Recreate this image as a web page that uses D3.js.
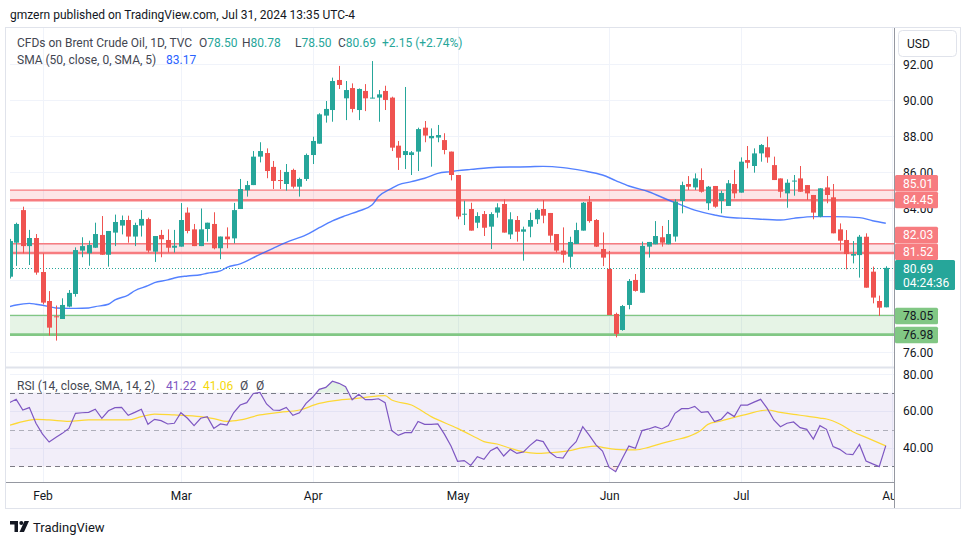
<!DOCTYPE html>
<html><head><meta charset="utf-8">
<script src="https://cdn.jsdelivr.net/npm/d3@7"></script>
<style>
html,body{margin:0;padding:0;background:#fff;}
svg{display:block;font-family:Roboto,"Noto Sans",sans-serif;}
</style></head><body>
<svg id="c" width="970" height="545"></svg>
<script>
// ---------- DATA ----------
const dates = ["Jan 25","Jan 26","Jan 29","Jan 30","Jan 31",
"Feb 1","Feb 2","Feb 5","Feb 6","Feb 7","Feb 8","Feb 9","Feb 12","Feb 13","Feb 14","Feb 15","Feb 16","Feb 19","Feb 20","Feb 21","Feb 22","Feb 23","Feb 26","Feb 27","Feb 28","Feb 29",
"Mar 1","Mar 4","Mar 5","Mar 6","Mar 7","Mar 8","Mar 11","Mar 12","Mar 13","Mar 14","Mar 15","Mar 18","Mar 19","Mar 20","Mar 21","Mar 22","Mar 25","Mar 26","Mar 27","Mar 28",
"Apr 1","Apr 2","Apr 3","Apr 4","Apr 5","Apr 8","Apr 9","Apr 10","Apr 11","Apr 12","Apr 15","Apr 16","Apr 17","Apr 18","Apr 19","Apr 22","Apr 23","Apr 24","Apr 25","Apr 26","Apr 29","Apr 30",
"May 1","May 2","May 3","May 6","May 7","May 8","May 9","May 10","May 13","May 14","May 15","May 16","May 17","May 20","May 21","May 22","May 23","May 24","May 27","May 28","May 29","May 30","May 31",
"Jun 3","Jun 4","Jun 5","Jun 6","Jun 7","Jun 10","Jun 11","Jun 12","Jun 13","Jun 14","Jun 17","Jun 18","Jun 19","Jun 20","Jun 21","Jun 24","Jun 25","Jun 26","Jun 27","Jun 28",
"Jul 1","Jul 2","Jul 3","Jul 4","Jul 5","Jul 8","Jul 9","Jul 10","Jul 11","Jul 12","Jul 15","Jul 16","Jul 17","Jul 18","Jul 19","Jul 22","Jul 23","Jul 24","Jul 25","Jul 26","Jul 29","Jul 30","Jul 31"];

const open = [80.2,82.09,83.9,81.9,82.35,80.46,78.85,78.0,77.85,78.54,79.24,81.65,81.5,81.81,82.52,81.42,82.65,83.04,83.35,82.43,83.04,83.4,81.59,82.52,82.24,81.81,
81.87,83.76,82.83,81.9,82.85,83.13,81.78,82.43,82.33,83.96,85.0,85.29,86.87,87.07,86.3,85.57,85.35,86.13,85.2,85.63,
86.96,87.59,89.15,89.46,91.13,90.11,90.68,89.46,90.52,90.13,90.15,90.52,90.15,87.48,86.96,86.96,87.15,88.48,87.89,87.93,87.79,87.15,
85.85,83.66,83.96,83.2,83.68,82.98,83.76,84.24,82.55,83.35,82.7,82.98,83.39,83.96,83.74,82.57,81.65,81.31,82.02,82.76,84.37,83.35,81.74,
80.63,78.13,77.24,78.63,80.02,79.31,81.87,82.0,82.39,82.0,82.43,84.41,85.35,85.16,85.57,84.28,85.24,84.41,84.13,85.35,
84.87,86.68,86.35,87.05,87.39,86.4,85.66,84.83,85.5,85.66,85.29,84.74,83.54,85.16,84.61,82.83,82.24,81.37,81.4,82.42,80.48,78.85,78.50];
const high = [82.3,83.2,84.09,82.8,82.57,81.5,79.4,78.6,79.0,79.46,81.83,82.39,82.2,83.2,83.57,82.74,83.65,83.6,83.59,83.2,83.9,83.48,82.46,82.8,82.83,82.8,
84.29,84.05,83.13,83.99,83.2,83.78,82.43,82.94,84.3,85.63,85.52,87.18,87.67,87.33,86.63,86.13,86.46,86.2,85.7,87.04,
87.98,89.28,89.96,91.26,91.91,91.07,90.94,90.66,90.9,92.18,90.57,90.81,90.2,87.74,90.74,87.18,88.48,88.85,88.44,88.63,88.17,87.15,
85.85,84.42,84.31,83.78,83.85,83.78,84.28,84.5,83.78,83.57,82.98,83.76,84.0,84.46,83.74,82.57,82.94,82.42,83.2,84.35,84.68,83.4,82.66,
81.63,78.2,78.63,80.07,80.35,82.15,82.13,83.29,83.02,83.35,84.5,85.48,85.79,85.94,86.22,85.24,85.24,84.98,85.57,86.13,
86.83,87.46,87.33,87.57,87.98,86.87,85.66,85.61,85.85,86.35,85.29,84.74,85.11,85.79,85.35,83.16,82.79,82.18,82.52,82.61,80.76,79.15,80.78];
const low = [80.1,80.8,81.5,80.85,80.31,78.66,76.93,76.65,77.85,78.5,79.09,81.28,80.81,81.8,81.42,80.76,81.9,82.55,82.09,81.9,82.43,81.54,81.02,81.28,81.54,81.54,
81.87,82.61,81.9,81.9,82.15,81.72,81.17,81.78,82.05,83.96,84.65,85.29,86.55,85.67,85.07,85.07,84.98,85.1,84.65,85.52,
86.46,87.59,88.76,88.81,90.63,88.9,89.33,88.9,89.4,90.11,88.81,89.46,87.18,86.13,86.18,85.85,86.07,87.67,86.31,87.67,87.0,85.55,
83.39,83.07,82.76,82.9,82.46,81.74,83.48,82.65,82.29,82.15,81.09,82.39,83.13,83.17,82.09,81.54,80.98,80.7,82.02,82.76,83.2,81.85,80.79,
78.07,76.83,77.2,78.39,79.37,79.31,81.26,82.0,81.87,82.0,82.15,83.72,85.02,85.02,84.87,83.9,84.03,83.72,84.13,84.55,
84.87,86.22,85.98,86.59,86.53,85.57,84.59,84.03,84.7,84.92,84.46,83.39,83.5,84.28,82.61,81.65,80.61,80.94,80.15,79.59,78.72,78.02,78.50];
const close = [82.18,83.13,81.9,82.35,80.43,78.76,77.37,77.95,78.63,79.3,81.68,81.9,81.96,82.57,81.42,82.74,83.24,83.35,82.43,83.07,83.41,81.65,82.46,82.28,81.81,81.92,
83.35,82.74,81.9,82.83,83.2,81.78,82.43,82.28,83.9,85.07,85.29,86.87,87.18,86.07,85.52,85.55,86.02,85.2,85.63,86.96,
87.74,89.22,89.52,91.07,90.85,90.57,89.52,90.63,90.11,90.15,90.33,90.02,87.37,86.81,87.18,87.11,88.4,88.04,88.02,88.07,87.24,85.85,
83.54,83.7,82.76,83.57,82.92,83.68,84.05,82.65,83.39,82.7,82.83,83.35,83.91,83.59,82.48,81.65,81.42,82.13,82.79,84.31,83.29,81.87,81.26,
78.07,77.02,78.57,79.96,79.41,81.91,82.13,82.46,82.09,82.57,84.37,85.29,85.2,85.66,84.92,85.2,84.09,84.85,85.39,84.83,
86.59,86.53,87.05,87.52,86.83,85.57,84.92,85.42,85.54,84.92,84.83,83.76,85.11,84.74,82.61,82.2,81.46,81.46,82.42,79.59,79.04,78.48,80.69];

// SMA(50) at these bars
const smaBars = [0,1,3,4,6,7,9,10,12,13,15,16,18,19,21,22,24,25,27,29,30,32,33,35,38,40,42,45,47,49,51,53,55,56,58,59,61,63,65,67,68,70,74,79,81,84,87,90,92,94,97,100,102,104,107,109,112,117,119,122,125,129,131,133];
const smaVals = [78.54,78.63,78.72,78.67,78.54,78.46,78.44,78.44,78.46,78.54,78.67,78.91,79.18,79.42,79.7,79.87,80.02,80.13,80.24,80.31,80.39,80.52,80.72,80.91,81.44,81.78,82.11,82.52,82.92,83.3,83.59,83.85,84.18,84.65,85.11,85.3,85.48,85.67,85.94,86.04,86.09,86.16,86.28,86.31,86.33,86.26,86.09,85.85,85.54,85.24,84.92,84.46,84.18,83.9,83.63,83.5,83.44,83.35,83.44,83.54,83.54,83.48,83.31,83.17];

// RSI(14), one value per bar
const rsi = [64.6,66.4,60.6,61.9,53.4,47.5,43.2,45.7,47.9,50.6,
58.8,59.1,59.3,61.0,56.1,60.2,61.9,62.0,57.7,59.3,
61.0,52.8,55.5,54.8,53.0,53.4,59.1,56.1,52.1,56.1,
57.0,50.6,53.0,52.4,59.1,63.3,64.6,69.6,70.2,63.9,
60.6,60.4,62.0,57.7,59.1,64.2,67.5,71.8,72.9,76.2,
75.1,73.3,66.2,69.1,66.2,66.2,66.7,64.6,49.4,46.8,
48.3,48.3,54.4,52.8,52.8,53.0,47.5,41.0,32.7,33.1,
30.5,35.2,33.8,38.5,40.3,35.6,39.2,37.0,37.8,41.4,
44.3,43.4,37.6,34.9,34.5,39.8,43.4,51.5,46.8,41.6,
38.3,29.4,27.1,34.2,41.0,39.8,49.4,50.3,51.5,50.3,
52.1,58.8,61.3,61.3,62.6,59.3,59.7,54.3,55.5,59.3,
57.0,63.3,63.3,64.9,66.4,61.5,55.2,51.5,53.4,54.1,
51.0,50.1,44.8,52.1,50.1,40.7,39.2,36.7,36.3,41.9,
32.9,31.3,29.8,41.2];

// RSI-based SMA(14) read at these bars
const rsiSmaBars = [0,2,4,6,9,12,14,18,20,22,25,29,31,33,35,38,41,44,47,50,52,54,57,58,61,64,68,71,72,74,76,78,80,82,85,87,89,90,92,95,97,99,101,103,105,106,108,110,112,114,115,117,119,121,123,124,126,128,130,133];
const rsiSmaVals = [52.3,54.3,55.5,55.2,54.4,55.2,55.2,55.2,57.0,58.4,57.9,57.0,55.9,54.4,55.2,57.9,59.3,60.6,64.2,66.0,66.6,67.5,68.4,66.0,63.3,57.0,50.6,45.2,43.4,42.1,39.8,37.8,37.0,37.4,38.5,40.1,41.0,40.3,39.2,38.9,40.3,42.5,44.3,46.1,49.7,52.8,54.6,56.6,58.4,60.2,60.6,59.3,58.2,57.3,56.2,55.7,53.0,48.8,45.7,41.1];

const priceTicks = [76,78,80,82,84,86,88,90,92];
const priceTickLabels = [76,84,86,88,90,92];   // the others sit under the price boxes
const rsiTicks = [40,60,80];
const rsiLevels = [70,50,30];
const monthLabels = ["Feb","Mar","Apr","May","Jun","Jul","Aug"];
const monthTickBars = [5,26,46,68,91,111,134];

const zoneTop = [85.01,82.03,78.05];
const zoneBottom = [84.45,81.52,76.98];
const zoneKind = ["res","res","sup"];
const lastPrice = 80.69;
const countdown = "04:24:36";

// ---------- LAYOUT ----------
const svg = d3.select("#c");
const W = 970, H = 545;
const L = 10, R = 894;
const mainTop = 28, mainBot = 367, rsiTop = 368, rsiBot = 482;
const UP = "#26a69a", DOWN = "#ef5350";
const GRID = "#f0f3fa";
const TXT = "#131722";
const FS = 12;

const x = d3.scaleLinear().domain([0,133]).range([9.6,885.8]);
const y = d3.scaleLinear().domain([76,92]).range([352.3,64.3]);
const yr = d3.scaleLinear().domain([30,70]).range([466.3,392.7]);

const defs = svg.append("defs");
defs.append("clipPath").attr("id","mainClip").append("rect").attr("x",L).attr("y",mainTop).attr("width",R-L).attr("height",mainBot-mainTop);
defs.append("clipPath").attr("id","rsiClip").append("rect").attr("x",L).attr("y",rsiTop).attr("width",R-L).attr("height",rsiBot-rsiTop);
defs.append("clipPath").attr("id","obClip").append("rect").attr("x",L).attr("y",rsiTop).attr("width",R-L).attr("height",yr(70)-rsiTop);
defs.append("clipPath").attr("id","osClip").append("rect").attr("x",L).attr("y",yr(30)).attr("width",R-L).attr("height",rsiBot-yr(30));
defs.append("clipPath").attr("id","rsiAxisClip").append("rect").attr("x",R).attr("y",370).attr("width",W-R).attr("height",rsiBot-370);
defs.append("clipPath").attr("id","timeClip").append("rect").attr("x",L).attr("y",rsiBot).attr("width",R-L).attr("height",30);
const obGrad = defs.append("linearGradient").attr("id","obGrad").attr("x1",0).attr("x2",0).attr("y1",0).attr("y2",1);
obGrad.append("stop").attr("offset","0%").attr("stop-color","rgba(76,175,80,0.16)");
obGrad.append("stop").attr("offset","100%").attr("stop-color","rgba(76,175,80,0.02)");
const osGrad = defs.append("linearGradient").attr("id","osGrad").attr("x1",0).attr("x2",0).attr("y1",0).attr("y2",1);
osGrad.append("stop").attr("offset","0%").attr("stop-color","rgba(255,82,82,0.02)");
osGrad.append("stop").attr("offset","100%").attr("stop-color","rgba(255,82,82,0.16)");

svg.append("rect").attr("width",W).attr("height",H).attr("fill","#fff");

// header
svg.append("text").attr("x",10).attr("y",19).attr("font-size",FS).attr("fill",TXT)
  .text("gmzern published on TradingView.com, Jul 31, 2024 13:35 UTC-4");

// frame
svg.append("rect").attr("x",5.5).attr("y",27.5).attr("width",955).attr("height",481)
  .attr("fill","none").attr("stroke","#e0e3eb");

// ---------- GRID ----------
const grid = svg.append("g");
grid.selectAll("line.hg").data(priceTicks).join("line")
  .attr("x1",L).attr("x2",R).attr("y1",d=>Math.round(y(d))+0.5).attr("y2",d=>Math.round(y(d))+0.5)
  .attr("stroke",GRID);
grid.selectAll("line.rg").data(rsiTicks).join("line")
  .attr("x1",L).attr("x2",R).attr("y1",d=>Math.round(yr(d))+0.5).attr("y2",d=>Math.round(yr(d))+0.5)
  .attr("stroke",GRID);
grid.selectAll("line.vg").data(monthTickBars).join("line")
  .attr("x1",d=>Math.round(x(d))+0.5).attr("x2",d=>Math.round(x(d))+0.5)
  .attr("y1",mainTop).attr("y2",rsiBot).attr("stroke",GRID);

// ---------- ZONES ----------
const zg = svg.append("g").attr("clip-path","url(#mainClip)");
zoneTop.forEach((t,k)=>{
  const b = zoneBottom[k];
  const res = zoneKind[k]==="res";
  const fill = res ? "rgba(242,54,69,0.13)" : "rgba(76,175,80,0.14)";
  const line = res ? "#f77c80" : "#81c784";
  zg.append("rect").attr("x",L).attr("width",R-L).attr("y",y(t)).attr("height",y(b)-y(t)).attr("fill",fill);
  zg.append("line").attr("x1",L).attr("x2",R).attr("y1",y(t)).attr("y2",y(t)).attr("stroke",line).attr("stroke-width",1.3);
  zg.append("line").attr("x1",L).attr("x2",R).attr("y1",y(b)).attr("y2",y(b)).attr("stroke",line).attr("stroke-width",2.6);
});

// last price dotted line
zg.append("line").attr("x1",L).attr("x2",R).attr("y1",Math.round(y(lastPrice))+0.5).attr("y2",Math.round(y(lastPrice))+0.5)
  .attr("stroke",UP).attr("stroke-dasharray","1,2");

// SMA line
const smaLine = d3.line().x((d,k)=>x(smaBars[k])).y(d=>y(d)).curve(d3.curveMonotoneX);
zg.append("path").attr("d",smaLine(smaVals)).attr("fill","none").attr("stroke","#2962ff")
  .attr("stroke-width",1.4).attr("stroke-opacity",0.8);

// ---------- CANDLES ----------
const idx = d3.range(dates.length);
const cg = svg.append("g").attr("clip-path","url(#mainClip)");
const col = i => close[i] >= open[i] ? UP : DOWN;
cg.selectAll("line.wick").data(idx).join("line")
  .attr("x1",i=>Math.round(x(i))+0.5).attr("x2",i=>Math.round(x(i))+0.5)
  .attr("y1",i=>y(high[i])).attr("y2",i=>y(low[i])).attr("stroke",col).attr("stroke-width",1);
cg.selectAll("rect.body").data(idx).join("rect")
  .attr("x",i=>Math.round(x(i))-2).attr("width",5)
  .attr("y",i=>y(Math.max(open[i],close[i])))
  .attr("height",i=>Math.max(1,Math.abs(y(open[i])-y(close[i]))))
  .attr("fill",col);

// ---------- PANE SEPARATOR ----------
svg.append("line").attr("x1",6).attr("x2",R).attr("y1",mainBot+0.5).attr("y2",mainBot+0.5).attr("stroke","#e0e3eb").attr("stroke-width",2);

// ---------- RSI ----------
const rg = svg.append("g").attr("clip-path","url(#rsiClip)");
rg.append("rect").attr("x",L).attr("width",R-L).attr("y",yr(70)).attr("height",yr(30)-yr(70)).attr("fill","rgba(126,87,194,0.1)");
rsiLevels.forEach(v=>{
  rg.append("line").attr("x1",L).attr("x2",R).attr("y1",Math.round(yr(v))+0.5).attr("y2",Math.round(yr(v))+0.5)
    .attr("stroke", v===50 ? "rgba(120,123,134,0.55)" : "#787b86").attr("stroke-dasharray","5,4");
});
const rsiArea = (base)=>d3.area().x((d,i)=>x(i)).y0(yr(base)).y1(d=>yr(d));
rg.append("path").attr("d",rsiArea(70)(rsi)).attr("fill","url(#obGrad)").attr("clip-path","url(#obClip)");
rg.append("path").attr("d",rsiArea(30)(rsi)).attr("fill","url(#osGrad)").attr("clip-path","url(#osClip)");
rg.append("path").attr("d",d3.line().x((d,k)=>x(rsiSmaBars[k])).y(d=>yr(d)).curve(d3.curveMonotoneX)(rsiSmaVals))
  .attr("fill","none").attr("stroke","#fdd835").attr("stroke-width",1.2);
rg.append("path").attr("d",d3.line().x((d,i)=>x(i)).y(d=>yr(d))(rsi))
  .attr("fill","none").attr("stroke","#7e57c2").attr("stroke-width",1.2);

// ---------- LEGENDS ----------
const lg = svg.append("g").attr("font-size",FS);
const GRAY = "#434651";
lg.append("text").attr("x",17).attr("y",46.5).attr("fill",GRAY).text("CFDs on Brent Crude Oil, 1D, TVC");
const ohlcLab = ["O","H","L","C"];
const ohlcVal = ["78.50","80.78","78.50","80.69"];
const ohlcX = [199,242,295,338];
ohlcLab.forEach((t,k)=>{
  const tx = lg.append("text").attr("x",ohlcX[k]).attr("y",46.5);
  tx.append("tspan").attr("fill",GRAY).text(t);
  tx.append("tspan").attr("fill",UP).text(ohlcVal[k]);
});
lg.append("text").attr("x",382).attr("y",46.5).attr("fill",UP).text("+2.15 (+2.74%)");
lg.append("text").attr("x",17).attr("y",63.5).attr("fill",GRAY).text("SMA (50, close, 0, SMA, 5)");
lg.append("text").attr("x",166).attr("y",63.5).attr("fill","#2962ff").text("83.17");
lg.append("text").attr("x",17).attr("y",389.5).attr("fill",GRAY).text("RSI (14, close, SMA, 14, 2)");
lg.append("text").attr("x",166).attr("y",389.5).attr("fill","#7e57c2").text("41.22");
lg.append("text").attr("x",203).attr("y",389.5).attr("fill","#f5d90a").text("41.06");
lg.append("text").attr("x",240).attr("y",389.5).attr("fill",GRAY).text("\u00D8");
lg.append("text").attr("x",256).attr("y",389.5).attr("fill",GRAY).text("\u00D8");

// ---------- PRICE AXIS ----------
const pa = svg.append("g").attr("transform",`translate(${R},0)`)
  .call(d3.axisRight(y).tickValues(priceTickLabels).tickFormat(d3.format(".2f")).tickSize(0).tickPadding(9));
pa.select(".domain").remove();
pa.selectAll("text").attr("font-size",FS).attr("fill",TXT).attr("font-family","Roboto,'Noto Sans',sans-serif");

const ra = svg.append("g").attr("clip-path","url(#rsiAxisClip)").append("g").attr("transform",`translate(${R},0)`)
  .call(d3.axisRight(yr).tickValues(rsiTicks).tickFormat(d3.format(".2f")).tickSize(0).tickPadding(9));
ra.select(".domain").remove();
ra.selectAll("text").attr("font-size",FS).attr("fill",TXT).attr("font-family","Roboto,'Noto Sans',sans-serif");

// price labels (boxes)
const boxVals = [85.01,84.45,82.03,81.52,78.05,76.98];
const boxCenters = [183.3,200,235,251.7,316,335];
const boxFill = ["#f77c80","#f77c80","#f77c80","#f77c80","#81c784","#81c784"];
const boxText = ["#fff","#fff","#fff","#fff",TXT,TXT];
boxVals.forEach((v,k)=>{
  svg.append("rect").attr("x",R+1).attr("y",boxCenters[k]-8.3).attr("width",43).attr("height",16.6).attr("fill",boxFill[k]).attr("rx",1.5);
  svg.append("text").attr("x",903).attr("y",boxCenters[k]+4.3).attr("font-size",FS).attr("fill",boxText[k]).text(v.toFixed(2));
});
svg.append("rect").attr("x",R+1).attr("y",260).attr("width",60).attr("height",30).attr("fill",UP).attr("rx",1.5);
svg.append("text").attr("x",903).attr("y",272.8).attr("font-size",FS).attr("fill","#fff").text(lastPrice.toFixed(2));
svg.append("text").attr("x",903).attr("y",286.5).attr("font-size",FS).attr("fill","#fff").text(countdown);

// USD button
svg.append("rect").attr("x",898.5).attr("y",30.5).attr("width",58).attr("height",26).attr("rx",4)
  .attr("fill","#fff").attr("stroke","#e0e3eb");
svg.append("text").attr("x",907).attr("y",48).attr("font-size",FS).attr("fill",TXT).text("USD");

// ---------- TIME AXIS ----------
svg.append("line").attr("x1",6).attr("x2",R).attr("y1",rsiBot+0.5).attr("y2",rsiBot+0.5).attr("stroke","#9598a1");
const ta = svg.append("g").attr("clip-path","url(#timeClip)").append("g").attr("transform",`translate(0,${rsiBot})`)
  .call(d3.axisBottom(x).tickValues(monthTickBars).tickFormat((d,k)=>monthLabels[k]).tickSize(0).tickPadding(9));
ta.select(".domain").remove();
ta.selectAll("text").attr("font-size",FS).attr("fill",TXT).attr("font-family","Roboto,'Noto Sans',sans-serif");

// price axis separator
svg.append("line").attr("x1",R+0.5).attr("x2",R+0.5).attr("y1",28).attr("y2",508).attr("stroke","#9598a1");

// ---------- FOOTER LOGO ----------
const logo = svg.append("g").attr("transform","translate(10,521)").attr("fill",TXT);
logo.append("path").attr("d","M0 0 H8 V11 H4.5 V3.5 H0 Z");
logo.append("circle").attr("cx",11.3).attr("cy",2).attr("r",2);
logo.append("path").attr("d","M14.5 0 H19 L14 11 H9.5 Z");
svg.append("text").attr("x",33).attr("y",531.5).attr("font-size",13).attr("fill",TXT).text("TradingView");
</script>
</body></html>
